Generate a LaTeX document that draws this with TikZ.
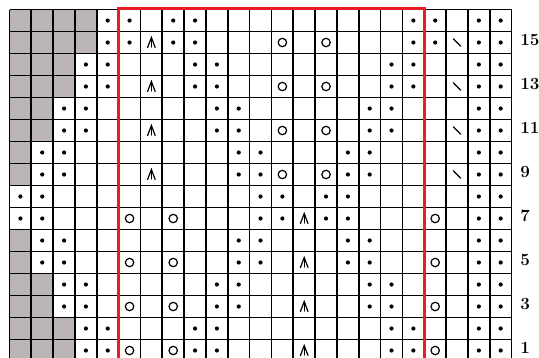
\documentclass[tikz,border=0pt]{standalone}
\definecolor{chartgray}{RGB}{187,181,181}
\definecolor{chartred}{RGB}{236,28,36}
\tikzset{
  gridline/.style={black, line width=1.3pt},
  grayfill/.style={fill=chartgray, draw=none},
  knitdot/.style={fill=black, draw=none},
  yarnover/.style={draw=black, line width=0.9pt},
  symline/.style={draw=black, line width=0.9pt, line cap=round},
  redframe/.style={draw=chartred, line width=2.3pt},
  rowlabel/.style={anchor=west, inner sep=0pt, font=\fontsize{12.8}{14}\selectfont\bfseries}
}
\begin{document}
\begin{tikzpicture}[x=0.75pt,y=-0.75pt]
\useasboundingbox (0,0) rectangle (539,357);
\clip (0,0) rectangle (539,357);
\def\cw{21.83}
\def\ch{22}
% gray cells
\foreach \r/\g in {16/4,15/4,14/3,13/3,12/2,11/2,10/1,9/1,6/1,5/1,4/2,3/2,2/3,1/3}{
  \fill[chartgray] (9.5,{9.5+(16-\r)*\ch}) rectangle ({9.5+\g*\cw},{9.5+(17-\r)*\ch});
}
% grid
\foreach \k in {0,...,23}{
  \draw[gridline] ({9.5+\k*\cw},9.5) -- ({9.5+\k*\cw},362);
}
\foreach \k in {0,...,16}{
  \draw[gridline] (9.5,{9.5+\k*\ch}) -- ({9.5+23*\cw},{9.5+\k*\ch});
}
% dots
\foreach \r/\cs in {16/{5,6,8,9,19,20,22,23},15/{5,6,8,9,19,20,22,23},
  14/{4,5,9,10,18,19,22,23},13/{4,5,9,10,18,19,22,23},
  12/{3,4,10,11,17,18,22,23},11/{3,4,10,11,17,18,22,23},
  10/{2,3,11,12,16,17,22,23},9/{2,3,11,12,16,17,22,23},
  8/{1,2,12,13,15,16,22,23},7/{1,2,12,13,15,16,22,23},
  6/{2,3,11,12,16,17,22,23},5/{2,3,11,12,16,17,22,23},
  4/{3,4,10,11,17,18,22,23},3/{3,4,10,11,17,18,22,23},
  2/{4,5,9,10,18,19,22,23},1/{4,5,9,10,18,19,22,23}}{
  \foreach \c in \cs {
    \fill[knitdot] ({9.5+(\c-0.5)*\cw},{9.5+(16.5-\r)*\ch}) circle (2.1);
  }
}
% yarn overs
\foreach \r/\c in {15/13,15/15,13/13,13/15,11/13,11/15,9/13,9/15,
  7/6,7/8,7/20,5/6,5/8,5/20,3/6,3/8,3/20,1/6,1/8,1/20}{
  \draw[yarnover] ({9.5+(\c-0.5)*\cw},{9.5+(16.5-\r)*\ch}) circle (4.2);
}
% central double decreases
\foreach \r/\c in {15/7,13/7,11/7,9/7,7/14,5/14,3/14,1/14}{
  \begin{scope}[shift={({9.5+(\c-0.5)*\cw},{9.5+(16.5-\r)*\ch})}]
    \draw[symline] (-3.8,5) -- (0,-5) -- (3.8,5);
    \draw[symline] (0,-5) -- (0,4.5);
  \end{scope}
}
% slashes
\foreach \r in {15,13,11,9}{
  \draw[symline] ({9.5+20.5*\cw-3.8},{9.5+(16.5-\r)*\ch-3.8}) -- ({9.5+20.5*\cw+3.8},{9.5+(16.5-\r)*\ch+3.8});
}
% red frame
\draw[redframe] ({9.5+5*\cw},8.7) rectangle ({9.5+19*\cw},380);
% row labels
\foreach \r in {15,13,11,9,7,5,3,1}{
  \node[rowlabel] (lab\r) at (520,{9.5+(16.5-\r)*\ch-2.5}) {\r};
}
\end{tikzpicture}
\end{document}
